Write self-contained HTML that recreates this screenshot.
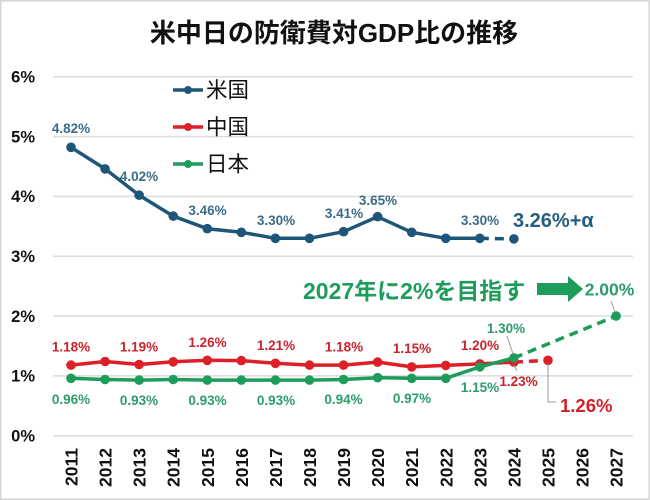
<!DOCTYPE html>
<html><head><meta charset="utf-8"><style>
html,body{margin:0;padding:0;background:#fff;}
svg{display:block;}
text{font-family:"Liberation Sans","Noto Sans CJK JP",sans-serif;}
</style></head><body>
<svg width="650" height="500" viewBox="0 0 650 500" xmlns="http://www.w3.org/2000/svg">
<rect x="0.75" y="0.75" width="648.5" height="498.5" fill="#fff" stroke="#d6d6d6" stroke-width="1.5"/>
<text x="334" y="42" text-anchor="middle" font-size="26" font-weight="bold" fill="#111">米中日の防衛費対GDP比の推移</text>
<g stroke="#dcdcdc" stroke-width="1.5">
<line x1="53" y1="76.7" x2="633" y2="76.7"/>
<line x1="53" y1="136.6" x2="633" y2="136.6"/>
<line x1="53" y1="196.4" x2="633" y2="196.4"/>
<line x1="53" y1="256.2" x2="633" y2="256.2"/>
<line x1="53" y1="316" x2="633" y2="316"/>
<line x1="53" y1="375.9" x2="633" y2="375.9"/>
<line x1="53" y1="435.7" x2="633" y2="435.7"/>
</g>
<g font-size="16.5" font-weight="bold" fill="#111" text-anchor="end">
<text x="35" y="82.5">6%</text>
<text x="35" y="142.4">5%</text>
<text x="35" y="202.2">4%</text>
<text x="35" y="262">3%</text>
<text x="35" y="321.8">2%</text>
<text x="35" y="381.7">1%</text>
<text x="35" y="441.5">0%</text>
</g>
<g font-size="17.5" font-weight="bold" fill="#111" text-anchor="end">
<text transform="translate(77.5,448) rotate(-90)">2011</text>
<text transform="translate(111.6,448) rotate(-90)">2012</text>
<text transform="translate(145.6,448) rotate(-90)">2013</text>
<text transform="translate(179.7,448) rotate(-90)">2014</text>
<text transform="translate(213.8,448) rotate(-90)">2015</text>
<text transform="translate(247.9,448) rotate(-90)">2016</text>
<text transform="translate(281.9,448) rotate(-90)">2017</text>
<text transform="translate(316,448) rotate(-90)">2018</text>
<text transform="translate(350.1,448) rotate(-90)">2019</text>
<text transform="translate(384.1,448) rotate(-90)">2020</text>
<text transform="translate(418.2,448) rotate(-90)">2021</text>
<text transform="translate(452.3,448) rotate(-90)">2022</text>
<text transform="translate(486.3,448) rotate(-90)">2023</text>
<text transform="translate(520.4,448) rotate(-90)">2024</text>
<text transform="translate(554.5,448) rotate(-90)">2025</text>
<text transform="translate(588.6,448) rotate(-90)">2026</text>
<text transform="translate(622.6,448) rotate(-90)">2027</text>
</g>
<g fill="none" stroke="#1d5678" stroke-width="3.5" stroke-linejoin="round">
<polyline points="71,147.3 105.07,168.9 139.14,195.2 173.21,216.1 207.28,228.7 241.35,232.3 275.42,238.3 309.49,238.3 343.56,231.7 377.63,216.7 411.7,232.3 445.77,238.3 479.84,238.3"/>
<line x1="479.84" y1="238.3" x2="513.91" y2="238.9" stroke-dasharray="9,6"/>
</g>
<g fill="#1d5678">
<circle cx="71" cy="147.3" r="4.8"/><circle cx="105.07" cy="168.9" r="4.8"/><circle cx="139.14" cy="195.2" r="4.8"/><circle cx="173.21" cy="216.1" r="4.8"/><circle cx="207.28" cy="228.7" r="4.8"/><circle cx="241.35" cy="232.3" r="4.8"/><circle cx="275.42" cy="238.3" r="4.8"/><circle cx="309.49" cy="238.3" r="4.8"/><circle cx="343.56" cy="231.7" r="4.8"/><circle cx="377.63" cy="216.7" r="4.8"/><circle cx="411.7" cy="232.3" r="4.8"/><circle cx="445.77" cy="238.3" r="4.8"/><circle cx="479.84" cy="238.3" r="4.8"/><circle cx="513.91" cy="238.9" r="4.8"/>
</g>
<g fill="none" stroke="#dd1f27" stroke-width="3.5" stroke-linejoin="round">
<polyline points="71,365.1 105.07,361.5 139.14,364.5 173.21,361.8 207.28,360.3 241.35,360.6 275.42,363.3 309.49,365.1 343.56,365.1 377.63,362.1 411.7,366.9 445.77,365.4 479.84,363.9 513.91,362.1"/>
<line x1="513.91" y1="362.1" x2="547.98" y2="360.3" stroke-dasharray="9,6"/>
</g>
<g fill="#dd1f27">
<circle cx="71" cy="365.1" r="4.8"/><circle cx="105.07" cy="361.5" r="4.8"/><circle cx="139.14" cy="364.5" r="4.8"/><circle cx="173.21" cy="361.8" r="4.8"/><circle cx="207.28" cy="360.3" r="4.8"/><circle cx="241.35" cy="360.6" r="4.8"/><circle cx="275.42" cy="363.3" r="4.8"/><circle cx="309.49" cy="365.1" r="4.8"/><circle cx="343.56" cy="365.1" r="4.8"/><circle cx="377.63" cy="362.1" r="4.8"/><circle cx="411.7" cy="366.9" r="4.8"/><circle cx="445.77" cy="365.4" r="4.8"/><circle cx="479.84" cy="363.9" r="4.8"/><circle cx="513.91" cy="362.1" r="4.8"/><circle cx="547.98" cy="360.3" r="4.8"/>
</g>
<g fill="none" stroke="#1e9c5c" stroke-width="3.5" stroke-linejoin="round">
<polyline points="71,378.3 105.07,379.5 139.14,380.1 173.21,379.5 207.28,380.1 241.35,380.1 275.42,380.1 309.49,380.1 343.56,379.5 377.63,377.7 411.7,378.3 445.77,378.3 479.84,366.9 513.91,357.9"/>
<line x1="513.91" y1="357.9" x2="616.12" y2="316" stroke-dasharray="9,6"/>
</g>
<g fill="#1e9c5c">
<circle cx="71" cy="378.3" r="4.8"/><circle cx="105.07" cy="379.5" r="4.8"/><circle cx="139.14" cy="380.1" r="4.8"/><circle cx="173.21" cy="379.5" r="4.8"/><circle cx="207.28" cy="380.1" r="4.8"/><circle cx="241.35" cy="380.1" r="4.8"/><circle cx="275.42" cy="380.1" r="4.8"/><circle cx="309.49" cy="380.1" r="4.8"/><circle cx="343.56" cy="379.5" r="4.8"/><circle cx="377.63" cy="377.7" r="4.8"/><circle cx="411.7" cy="378.3" r="4.8"/><circle cx="445.77" cy="378.3" r="4.8"/><circle cx="479.84" cy="366.9" r="4.8"/><circle cx="513.91" cy="357.9" r="4.8"/><circle cx="616.12" cy="316" r="4.8"/>
</g>
<g stroke="#9a9a9a" stroke-width="1" fill="none">
<line x1="611" y1="301" x2="615" y2="312"/>
<line x1="507" y1="336" x2="513" y2="354"/>
<line x1="514" y1="365" x2="517" y2="371"/>
<polyline points="548,364 548,402 556,402"/>
</g>
<g font-size="13.5" font-weight="bold" fill="#3a6c88" text-anchor="middle">
<text x="71" y="133">4.82%</text>
<text x="139" y="181">4.02%</text>
<text x="207.5" y="215">3.46%</text>
<text x="276" y="225">3.30%</text>
<text x="344" y="218">3.41%</text>
<text x="378" y="205">3.65%</text>
<text x="480" y="225">3.30%</text>
</g>
<text x="513" y="227" font-size="20" font-weight="bold" fill="#245f82">3.26%+α</text>
<g font-size="13.5" font-weight="bold" fill="#c8242c" text-anchor="middle">
<text x="71" y="351.5">1.18%</text>
<text x="139" y="351.5">1.19%</text>
<text x="207.5" y="347">1.26%</text>
<text x="276" y="350">1.21%</text>
<text x="344" y="351.5">1.18%</text>
<text x="412" y="353">1.15%</text>
<text x="480" y="350">1.20%</text>
<text x="518.5" y="386">1.23%</text>
</g>
<text x="560" y="412" font-size="18.5" font-weight="bold" fill="#d0202a">1.26%</text>
<g font-size="13.5" font-weight="bold" fill="#2c9c6c" text-anchor="middle">
<text x="71" y="404">0.96%</text>
<text x="139" y="405">0.93%</text>
<text x="207.5" y="405">0.93%</text>
<text x="276" y="405">0.93%</text>
<text x="343.5" y="404">0.94%</text>
<text x="412" y="403">0.97%</text>
<text x="480" y="392">1.15%</text>
<text x="506" y="333">1.30%</text>
</g>
<text x="609.5" y="295.5" font-size="17.5" font-weight="bold" fill="#2c9c6c" text-anchor="middle">2.00%</text>
<text x="303" y="299" font-size="23" font-weight="bold" fill="#1e9c5c">2027年に2%を目指す</text>
<polygon points="537,283 568,283 568,276 583,289 568,302 568,295 537,295" fill="#1e9c5c"/>
<g stroke-width="3.5">
<line x1="173" y1="90" x2="203" y2="90" stroke="#1d5678"/>
<line x1="173" y1="127" x2="203" y2="127" stroke="#dd1f27"/>
<line x1="173" y1="164" x2="203" y2="164" stroke="#1e9c5c"/>
</g>
<circle cx="188" cy="90" r="4" fill="#1d5678"/>
<circle cx="188" cy="127" r="4" fill="#dd1f27"/>
<circle cx="188" cy="164" r="4" fill="#1e9c5c"/>
<g font-size="21.5" fill="#111">
<text x="206" y="97.5">米国</text>
<text x="206" y="134.5">中国</text>
<text x="206" y="171.5">日本</text>
</g>
</svg>
</body></html>
